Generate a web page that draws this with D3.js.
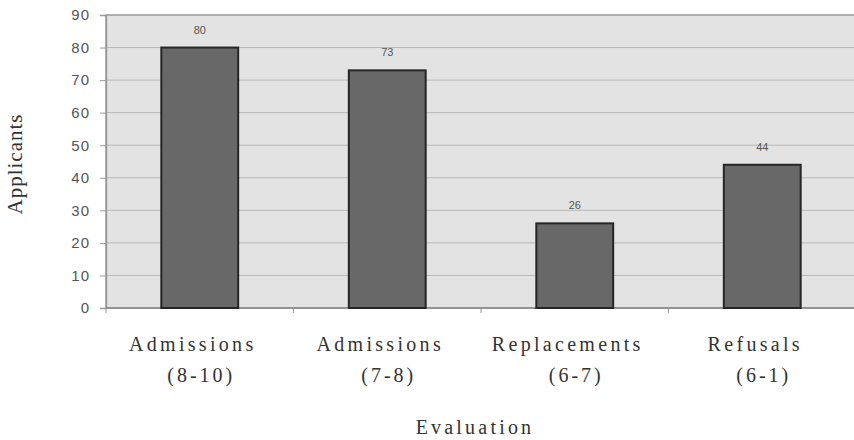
<!DOCTYPE html>
<html><head><meta charset="utf-8">
<script src="https://cdn.jsdelivr.net/npm/d3@7"></script>
<style>body{margin:0;background:#fff}svg{display:block}</style>
</head><body>
<svg id="c" width="854" height="440"></svg>
<script>
const categories = [["Admissions","(8-10)"],["Admissions","(7-8)"],["Replacements","(6-7)"],["Refusals","(6-1)"]];
const values = [80, 73, 26, 44];
const yTicks = [0,10,20,30,40,50,60,70,80,90];
const yTitle = "Applicants";
const xTitle = "Evaluation";

(function(){
const svg = d3.select("#c");
const mLeft = 106, mRight = 856, mTop = 15, mBottom = 308;
const keys = categories.map((c,i)=>i);
const xOuter = d3.scaleBand().domain(keys).range([mLeft,mRight]).padding(0);
const x = d3.scaleBand().domain(keys).range([mLeft,mRight]).paddingInner(0.59).paddingOuter(0.295);
const y = d3.scaleLinear().domain([0,90]).range([mBottom,mTop]);

svg.append("rect").attr("x",mLeft).attr("y",mTop).attr("width",mRight-mLeft).attr("height",mBottom-mTop)
  .attr("fill","#e3e3e3").attr("stroke","#9a9a9a").attr("stroke-width",1.5);

svg.append("g").selectAll("line").data(yTicks.filter(d=>d>0 && d<90)).join("line")
  .attr("x1",mLeft).attr("x2",mRight).attr("y1",d=>y(d)).attr("y2",d=>y(d))
  .attr("stroke","#b8b8b8").attr("stroke-width",1);

const ya = svg.append("g").attr("transform",`translate(${mLeft},0)`)
  .call(d3.axisLeft(y).tickValues(yTicks).tickSize(6).tickPadding(10));
ya.select(".domain").attr("stroke","#9a9a9a").attr("stroke-width",1.5);
ya.selectAll(".tick line").attr("stroke","#9a9a9a");
ya.selectAll(".tick text").attr("font-family","Arial, 'Liberation Sans', sans-serif").attr("font-size",15)
  .attr("letter-spacing","1px").attr("fill","#555");

const bounds = keys.map(k=>xOuter(k)).concat([mRight]);
svg.append("g").selectAll("line").data(bounds).join("line")
  .attr("x1",d=>d).attr("x2",d=>d).attr("y1",mBottom).attr("y2",mBottom+5)
  .attr("stroke","#9a9a9a").attr("stroke-width",1);
svg.append("line").attr("x1",mLeft).attr("x2",mRight).attr("y1",mBottom).attr("y2",mBottom)
  .attr("stroke","#8a8a8a").attr("stroke-width",1.5);

svg.append("g").selectAll("rect").data(values).join("rect")
  .attr("x",(d,i)=>x(i)).attr("width",x.bandwidth())
  .attr("y",d=>y(d)).attr("height",d=>mBottom-y(d))
  .attr("fill","#686868").attr("stroke","#262626").attr("stroke-width",2);

svg.append("g").selectAll("text").data(values).join("text")
  .attr("x",(d,i)=>x(i)+x.bandwidth()/2).attr("y",d=>y(d)-14)
  .attr("text-anchor","middle").attr("font-family","Arial, 'Liberation Sans', sans-serif")
  .attr("font-size",11).attr("fill","#555").text(d=>d);

const cl = svg.append("g").selectAll("g").data(categories).join("g")
  .attr("transform",(d,i)=>`translate(${x(i)+x.bandwidth()/2},0)`);
cl.append("text").attr("x",-7).attr("y",351).attr("text-anchor","middle")
  .attr("font-family","'Liberation Serif','Times New Roman',serif").attr("font-size",20)
  .attr("letter-spacing","3.3px").attr("fill","#333").text(d=>d[0]);
cl.append("text").attr("x",1.5).attr("y",382).attr("text-anchor","middle")
  .attr("font-family","'Liberation Serif','Times New Roman',serif").attr("font-size",20)
  .attr("letter-spacing","3px").attr("fill","#333").text(d=>d[1]);

svg.append("text").attr("x",475).attr("y",434).attr("text-anchor","middle")
  .attr("font-family","'Liberation Serif','Times New Roman',serif").attr("font-size",20)
  .attr("letter-spacing","3.2px").attr("fill","#333").text(xTitle);
svg.append("text").attr("transform","translate(22,164) rotate(-90)").attr("text-anchor","middle")
  .attr("font-family","'Liberation Serif','Times New Roman',serif").attr("font-size",21)
  .attr("letter-spacing","1px").attr("fill","#333").text(yTitle);
})();
</script>
</body></html>
